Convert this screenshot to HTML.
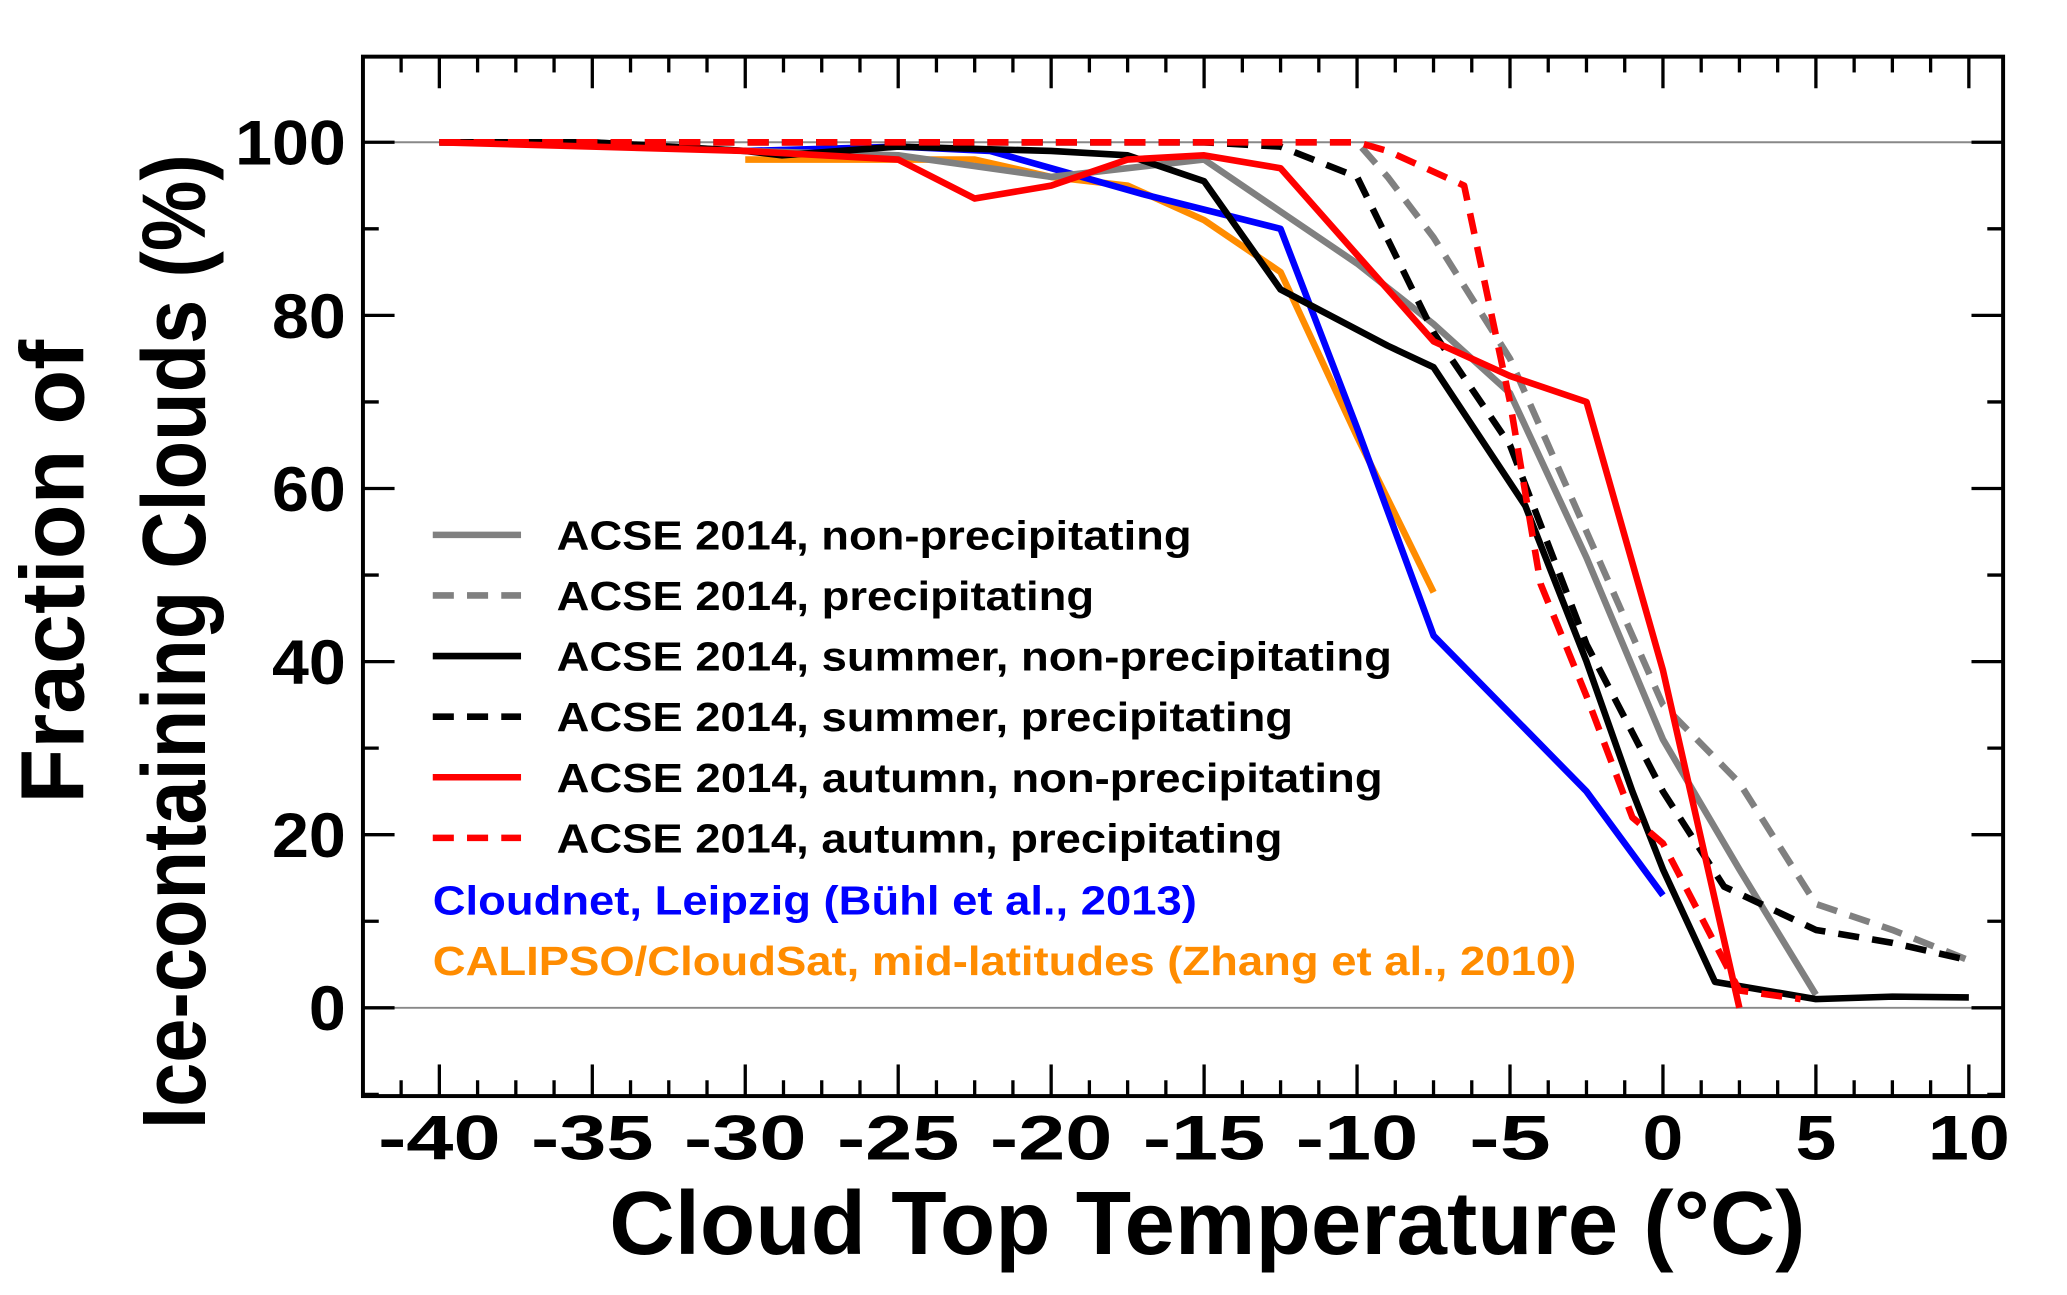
<!DOCTYPE html>
<html><head><meta charset="utf-8"><style>
html,body{margin:0;padding:0;background:#fff;}
svg{display:block;font-family:"Liberation Sans",Arial,sans-serif;font-weight:bold;}
</style></head><body>
<svg id="chart" width="2067" height="1295" viewBox="0 0 1568 983" xmlns="http://www.w3.org/2000/svg">
<g id="grid"></g><g id="series"></g><g id="axes"></g><g id="legend"></g>
</svg>
<script>
const xTicks=[-40,-35,-30,-25,-20,-15,-10,-5,0,5,10];
const yTicks=[0,20,40,60,80,100];
const grayX=[-40,-35,-30,-25,-20,-15,-12.5,-10,-7.5,-5,-2.5,0,2.5,5];
const grayY=[100,100,99,98.5,96,98,92,86,79,71,52,31,16,1.5];
const grayDX=[-40,-35,-30,-25,-20,-15,-12.5,-10,-9,-7.5,-5,-2.5,0,2.5,5,7.5,10];
const grayDY=[100,100,100,100,100,100,100,100,96,89,75,55,35,26,12,9,5.5];
const blackX=[-40,-35,-30,-28.8,-25,-20,-17.5,-15,-12.5,-9,-7.5,-4.5,-2.5,-1,0,1.7,5,7.5,10];
const blackY=[100,100,99,98.5,99.5,99,98.5,95.5,83,76.5,74,58,40,25,16,3,1,1.3,1.2];
const blackDX=[-40,-35,-30,-25,-20,-15,-12.5,-10,-7.5,-5,-2.5,0,2,5,7.5,10];
const blackDY=[100,100,100,100,100,100,99.5,96,78,65,42,25,14,9,7.5,5.5];
const redX=[-40,-30,-25,-22.5,-20,-17.5,-15,-12.5,-10,-7.5,-5,-2.5,0,2.5];
const redY=[100,99,98,93.5,95,98,98.5,97,87,77,73,70,39,0];
const redDX=[-40,-35,-30,-25,-20,-15,-12.5,-10,-9,-6.5,-5,-4,-2.5,-1,0,2.5,4.5];
const redDY=[100,100,100,100,100,100,100,100,99,95,70,49,36,22,19,2,1];
const blueX=[-30,-25,-22,-20,-17,-12.5,-10,-7.5,-2.5,0];
const blueY=[99,99.5,99,97,94,90,67,43,25,13];
const orangeX=[-30,-25,-22.5,-20,-17.5,-15,-12.5,-10,-7.5];
const orangeY=[98,98,98,96,95,91,85,66,48];

const L=275,R=1520,T=43,B=832;
const xs=v=>333+(v+40)*(1494-333)/50;
const ys=v=>765-v*(765-108)/100;
const NS="http://www.w3.org/2000/svg";
function mk(tag,attrs,parent){const e=document.createElementNS(NS,tag);for(const k in attrs)e.setAttribute(k,attrs[k]);document.getElementById(parent).appendChild(e);return e;}

[0,100].forEach(v=>{const l=mk('line',{x1:L,x2:R,y1:ys(v),y2:ys(v),stroke:'#888','stroke-width':1.5},'grid');

});

function series(xa,ya,color,dash,name){
  const d=xa.map((x,i)=>(i?'L':'M')+xs(x).toFixed(1)+','+ys(ya[i]).toFixed(1)).join('');
  const p=mk('path',{d:d,fill:'none',stroke:color,'stroke-width':5,'stroke-linejoin':'round','stroke-dasharray':dash?'16 10':'none'},'series');
  
  
}
series(orangeX,orangeY,'#ff8c00',false,'calipso-line');
series(blueX,blueY,'#0000ff',false,'cloudnet-line');
series(grayX,grayY,'#808080',false,'acse-nonprecip-line');
series(grayDX,grayDY,'#808080',true,'acse-precip-line');
series(blackX,blackY,'#000',false,'summer-nonprecip-line');
series(blackDX,blackDY,'#000',true,'summer-precip-line');
series(redX,redY,'#ff0000',false,'autumn-nonprecip-line');
series(redDX,redDY,'#ff0000',true,'autumn-precip-line');

const fr=mk('rect',{x:L,y:T,width:R-L,height:B-T,fill:'none',stroke:'#000','stroke-width':3},'axes');


for(let v=-42.5;v<=11;v+=1.25){const maj=Math.abs(v%5)<1e-6;const len=maj?24:12;const x=xs(v);
 if(x<L+1||x>R-1)continue;
 mk('line',{x1:x,x2:x,y1:B,y2:B-len,stroke:'#000','stroke-width':2.5},'axes');
 mk('line',{x1:x,x2:x,y1:T,y2:T+len,stroke:'#000','stroke-width':2.5},'axes');}
xTicks.forEach(v=>{const s=String(v);const t=mk('text',{x:xs(v),y:880,'text-anchor':'middle','font-size':48,textLength:s.length*31,lengthAdjust:'spacingAndGlyphs'},'axes');t.textContent=s;
 
 });
for(let v=-10;v<=110;v+=10){const maj=v%20===0;const len=maj?24:12;const y=ys(v);
 if(y<T+1||y>B-1)continue;
 mk('line',{x1:L,x2:L+len,y1:y,y2:y,stroke:'#000','stroke-width':2.5},'axes');
 mk('line',{x1:R,x2:R-len,y1:y,y2:y,stroke:'#000','stroke-width':2.5},'axes');}
yTicks.forEach(v=>{const s=String(v);const t=mk('text',{x:262,y:ys(v)+17,'text-anchor':'end','font-size':48,textLength:s.length*28,lengthAdjust:'spacingAndGlyphs'},'axes');t.textContent=s;
 
 });
const xt=mk('text',{x:916,y:952,'text-anchor':'middle','font-size':68,textLength:908,lengthAdjust:'spacingAndGlyphs'},'axes');xt.textContent='Cloud Top Temperature (°C)';


const yt1=mk('text',{x:0,y:0,'text-anchor':'middle','font-size':68,textLength:352,lengthAdjust:'spacingAndGlyphs',transform:'translate(63,434) rotate(-90)'},'axes');yt1.textContent='Fraction of';


const yt2=mk('text',{x:0,y:0,'text-anchor':'middle','font-size':68,textLength:740,lengthAdjust:'spacingAndGlyphs',transform:'translate(155,487) rotate(-90)'},'axes');yt2.textContent='Ice-containing Clouds (%)';



const legLabels=['ACSE 2014, non-precipitating','ACSE 2014, precipitating','ACSE 2014, summer, non-precipitating','ACSE 2014, summer, precipitating','ACSE 2014, autumn, non-precipitating','ACSE 2014, autumn, precipitating'];
const legWidths=[482,408,634,559,627,551];
const legColors=['#808080','#808080','#000','#000','#ff0000','#ff0000'];
const legDash=[false,true,false,true,false,true];
legLabels.forEach((s,i)=>{const y=406+i*46;
 const l=mk('line',{x1:328,x2:395,y1:y,y2:y,stroke:legColors[i],'stroke-width':5,'stroke-dasharray':legDash[i]?'16 10':'none'},'legend');
 
 
 const t=mk('text',{x:422,y:y+11,'font-size':31,textLength:legWidths[i],lengthAdjust:'spacingAndGlyphs'},'legend');t.textContent=s;
 
 });
const lb=mk('text',{x:328,y:694,'font-size':31,fill:'#0000ff',textLength:580,lengthAdjust:'spacingAndGlyphs'},'legend');lb.textContent='Cloudnet, Leipzig (Bühl et al., 2013)';


const lo=mk('text',{x:328,y:740,'font-size':31,fill:'#ff8c00',textLength:868,lengthAdjust:'spacingAndGlyphs'},'legend');lo.textContent='CALIPSO/CloudSat, mid-latitudes (Zhang et al., 2010)';


</script>
</body></html>
